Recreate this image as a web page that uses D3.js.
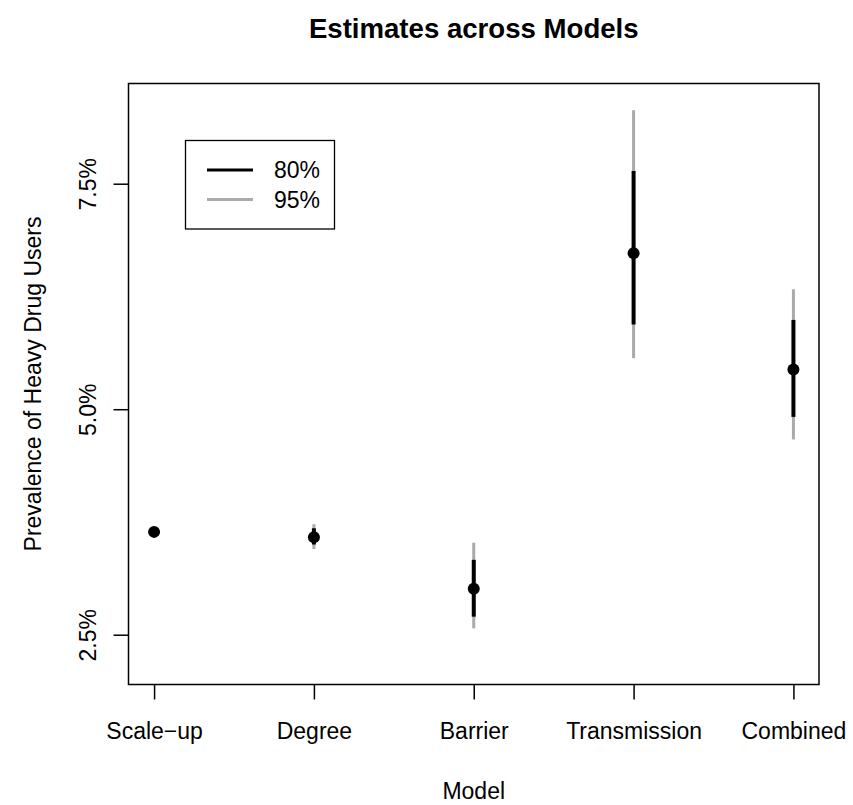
<!DOCTYPE html>
<html>
<head>
<meta charset="utf-8">
<title>Estimates across Models</title>
<script src="https://cdn.jsdelivr.net/npm/d3@7"></script>
<style>
	body { margin: 0; background: #fff; }
	text { font-family: "Liberation Sans", Arial, sans-serif; fill: #000; }
</style>
</head>
<body>
<svg width="853" height="805" class="chart"></svg>
<script>
// data (percent)
models = ['Scale\u2212up', 'Degree', 'Barrier', 'Transmission', 'Combined']
estimate = [3.64, 3.58, 3.01, 6.73, 5.44]
lo80 = [null, 3.50, 2.70, 5.94, 4.915]
hi80 = [null, 3.68, 3.33, 7.64, 5.99]
lo95 = [null, 3.45, 2.57, 5.565, 4.665]
hi95 = [null, 3.725, 3.52, 8.315, 6.33]
yTicks = [2.5, 5.0, 7.5]
legendLabels = ['80%', '95%']

box = {left: 128.5, right: 819, top: 83.5, bottom: 684.5}
fs = 23

svg = d3.select('.chart')

x = d3.scaleLinear().domain([0.84, 5.16]).range([box.left, box.right])
y = d3.scaleLinear().domain([1.948, 8.611]).range([box.bottom, box.top])

// plot frame
svg.append('rect')
	.attr('x', box.left).attr('y', box.top)
	.attr('width', box.right - box.left).attr('height', box.bottom - box.top)
	.attr('fill', 'none').attr('stroke', '#000').attr('stroke-width', 1.5)

// x axis
xAxis = svg.append('g')
	.attr('transform', 'translate(0,' + box.bottom + ')')
	.call(d3.axisBottom(x).tickValues([1, 2, 3, 4, 5]).tickSize(15).tickFormat(function(d) { return models[d - 1] }))
xAxis.select('.domain').remove()
xAxis.selectAll('line').attr('stroke-width', 1.5)
xAxis.selectAll('text')
	.attr('font-size', fs).attr('font-family', null)
	.attr('y', 0).attr('dy', null)
	.attr('transform', 'translate(0,54)')

// y axis
yAxis = svg.append('g')
	.attr('transform', 'translate(' + box.left + ',0)')
	.call(d3.axisLeft(y).tickValues(yTicks).tickSize(15).tickFormat(function(d) { return d.toFixed(1) + '%' }))
yAxis.select('.domain').remove()
yAxis.selectAll('line').attr('stroke-width', 1.5)
yAxis.selectAll('text')
	.attr('font-size', fs).attr('font-family', null)
	.attr('x', 0).attr('dy', null)
	.attr('text-anchor', 'middle')
	.attr('transform', 'translate(-33,0) rotate(-90)')

// 95% intervals (grey) under 80% (black)
idx = d3.range(models.length).filter(function(i) { return lo95[i] != null })

svg.append('g').selectAll('line')
	.data(idx).enter().append('line')
	.attr('x1', function(i) { return x(i + 1) }).attr('x2', function(i) { return x(i + 1) })
	.attr('y1', function(i) { return y(lo95[i]) }).attr('y2', function(i) { return y(hi95[i]) })
	.attr('stroke', '#aaaaaa').attr('stroke-width', 3)

svg.append('g').selectAll('line')
	.data(idx).enter().append('line')
	.attr('x1', function(i) { return x(i + 1) }).attr('x2', function(i) { return x(i + 1) })
	.attr('y1', function(i) { return y(lo80[i]) }).attr('y2', function(i) { return y(hi80[i]) })
	.attr('stroke', '#000').attr('stroke-width', 4)

svg.append('g').selectAll('circle')
	.data(estimate).enter().append('circle')
	.attr('cx', function(d, i) { return x(i + 1) })
	.attr('cy', function(d) { return y(d) })
	.attr('r', 6)
	.attr('fill', '#000')

// legend
lg = svg.append('g')
lg.append('rect')
	.attr('x', 185.5).attr('y', 140.5).attr('width', 149).attr('height', 88.5)
	.attr('fill', '#fff').attr('stroke', '#000').attr('stroke-width', 1.3)
lg.selectAll('line')
	.data(legendLabels).enter().append('line')
	.attr('x1', 207).attr('x2', 253)
	.attr('y1', function(d, i) { return 170 + i * 29.5 }).attr('y2', function(d, i) { return 170 + i * 29.5 })
	.attr('stroke', function(d, i) { return i == 0 ? '#000' : '#aaaaaa' })
	.attr('stroke-width', 3)
lg.selectAll('text')
	.data(legendLabels).enter().append('text')
	.attr('x', 274).attr('y', function(d, i) { return 170 + i * 29.5 })
	.attr('dy', '0.35em').attr('font-size', fs)
	.text(function(d) { return d })

// titles
svg.append('text')
	.attr('x', (box.left + box.right) / 2).attr('y', 38)
	.attr('text-anchor', 'middle').attr('font-size', fs * 1.2).attr('font-weight', 'bold')
	.text('Estimates across Models')

svg.append('text')
	.attr('x', (box.left + box.right) / 2).attr('y', 799)
	.attr('text-anchor', 'middle').attr('font-size', fs)
	.text('Model')

svg.append('text')
	.attr('transform', 'translate(41,' + (box.top + box.bottom) / 2 + ') rotate(-90)')
	.attr('text-anchor', 'middle').attr('font-size', fs)
	.text('Prevalence of Heavy Drug Users')
</script>
</body>
</html>
